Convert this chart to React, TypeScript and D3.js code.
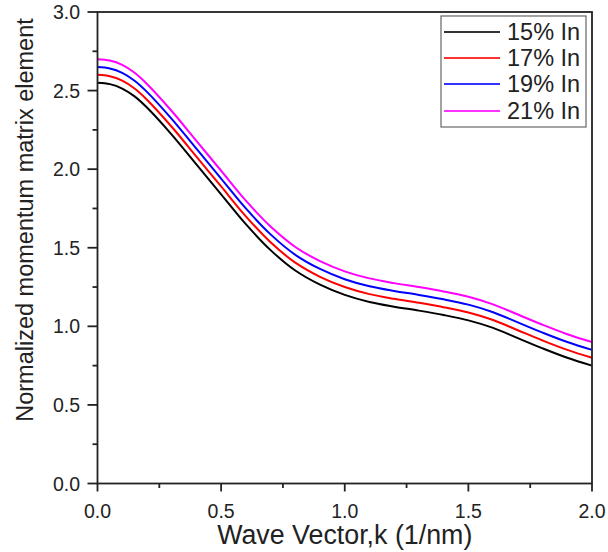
import React from "react";
import * as d3 from "d3";

const kValues = [0, 0.05, 0.1, 0.15, 0.2, 0.3, 0.4, 0.5, 0.6, 0.7, 0.8, 0.9, 1.0, 1.1, 1.2, 1.3, 1.4, 1.5, 1.6, 1.7, 1.8, 1.9, 2.0];
const in15 = [2.55, 2.541, 2.513, 2.463, 2.392, 2.22, 2.03, 1.84, 1.65, 1.485, 1.355, 1.265, 1.2, 1.155, 1.125, 1.1, 1.072, 1.038, 0.99, 0.925, 0.86, 0.8, 0.75];
const in17 = [2.6, 2.591, 2.563, 2.513, 2.442, 2.27, 2.08, 1.89, 1.7, 1.535, 1.405, 1.315, 1.25, 1.205, 1.175, 1.15, 1.122, 1.088, 1.04, 0.975, 0.91, 0.85, 0.8];
const in19 = [2.65, 2.641, 2.613, 2.563, 2.492, 2.32, 2.13, 1.94, 1.75, 1.585, 1.455, 1.365, 1.3, 1.255, 1.225, 1.2, 1.172, 1.138, 1.09, 1.025, 0.96, 0.9, 0.85];
const in21 = [2.7, 2.691, 2.663, 2.613, 2.542, 2.37, 2.18, 1.99, 1.8, 1.635, 1.505, 1.415, 1.35, 1.305, 1.275, 1.25, 1.222, 1.188, 1.14, 1.075, 1.01, 0.95, 0.9];
const seriesNames = ["15% In", "17% In", "19% In", "21% In"];
const seriesColors = ["#000000", "#ff0000", "#0000ff", "#ff00ff"];
const xMajorTicks = [0, 0.5, 1.0, 1.5, 2.0];
const xMinorTicks = [0.25, 0.75, 1.25, 1.75];
const yMajorTicks = [0, 0.5, 1.0, 1.5, 2.0, 2.5, 3.0];
const yMinorTicks = [0.25, 0.75, 1.25, 1.75, 2.25, 2.75];

const W = 608;
const H = 552;
const L = 97.5;
const R = 592;
const T = 12;
const B = 483.5;
const FONT = "'Liberation Sans', Arial, Helvetica, sans-serif";
const AXIS = "#222";

export default function App() {
  const x = d3.scaleLinear().domain([0, 2]).range([L, R]);
  const y = d3.scaleLinear().domain([0, 3]).range([B, T]);
  const allSeries = [in15, in17, in19, in21];
  const line = d3
    .line<[number, number]>()
    .x((d) => x(d[0]))
    .y((d) => y(d[1]))
    .curve(d3.curveCatmullRom.alpha(0.5));

  const legendLineY = [32, 58, 84, 111];

  return (
    <svg
      width={W}
      height={H}
      style={{ position: "absolute", left: 0, top: 0, background: "#fff" }}
      fontFamily={FONT}
    >
      <rect x={0} y={0} width={W} height={H} fill="#fff" />
      {allSeries.map((s, i) => (
        <path
          key={i}
          d={line(kValues.map((k, j) => [k, s[j]] as [number, number])) || ""}
          fill="none"
          stroke={seriesColors[i]}
          strokeWidth={2}
        />
      ))}
      {/* frame */}
      <rect x={L} y={T} width={R - L} height={B - T} fill="none" stroke={AXIS} strokeWidth={1.8} />
      {/* y ticks */}
      {yMajorTicks.map((t) => (
        <g key={"ym" + t}>
          <line x1={L - 10} x2={L} y1={y(t)} y2={y(t)} stroke={AXIS} strokeWidth={1.8} />
          <text x={80} y={y(t) + 7} textAnchor="end" fontSize={19.5} fill="#222">
            {t.toFixed(1)}
          </text>
        </g>
      ))}
      {yMinorTicks.map((t) => (
        <line key={"yn" + t} x1={L - 5} x2={L} y1={y(t)} y2={y(t)} stroke={AXIS} strokeWidth={1.8} />
      ))}
      {/* x ticks */}
      {xMajorTicks.map((t) => (
        <g key={"xm" + t}>
          <line x1={x(t)} x2={x(t)} y1={B} y2={B + 8} stroke={AXIS} strokeWidth={1.8} />
          <text x={x(t)} y={518} textAnchor="middle" fontSize={19.5} fill="#222">
            {t.toFixed(1)}
          </text>
        </g>
      ))}
      {xMinorTicks.map((t) => (
        <line key={"xn" + t} x1={x(t)} x2={x(t)} y1={B} y2={B + 4.5} stroke={AXIS} strokeWidth={1.8} />
      ))}
      {/* axis titles */}
      <text x={x(1)} y={544} textAnchor="middle" fontSize={26.8} fill="#222">
        Wave Vector,k (1/nm)
      </text>
      <text
        transform={`translate(33,220) rotate(-90)`}
        textAnchor="middle"
        fontSize={23.5}
        fill="#222"
      >
        Normalized momentum matrix element
      </text>
      {/* legend */}
      <rect x={441} y={16} width={145} height={111} fill="#fff" stroke="#666" strokeWidth={1.2} />
      {seriesNames.map((n, i) => (
        <g key={n}>
          <line x1={444} x2={500} y1={legendLineY[i]} y2={legendLineY[i]} stroke={seriesColors[i]} strokeWidth={2} opacity={0.8} />
          <text x={507} y={legendLineY[i] + 8} fontSize={23.5} fill="#222">
            {n}
          </text>
        </g>
      ))}
    </svg>
  );
}
